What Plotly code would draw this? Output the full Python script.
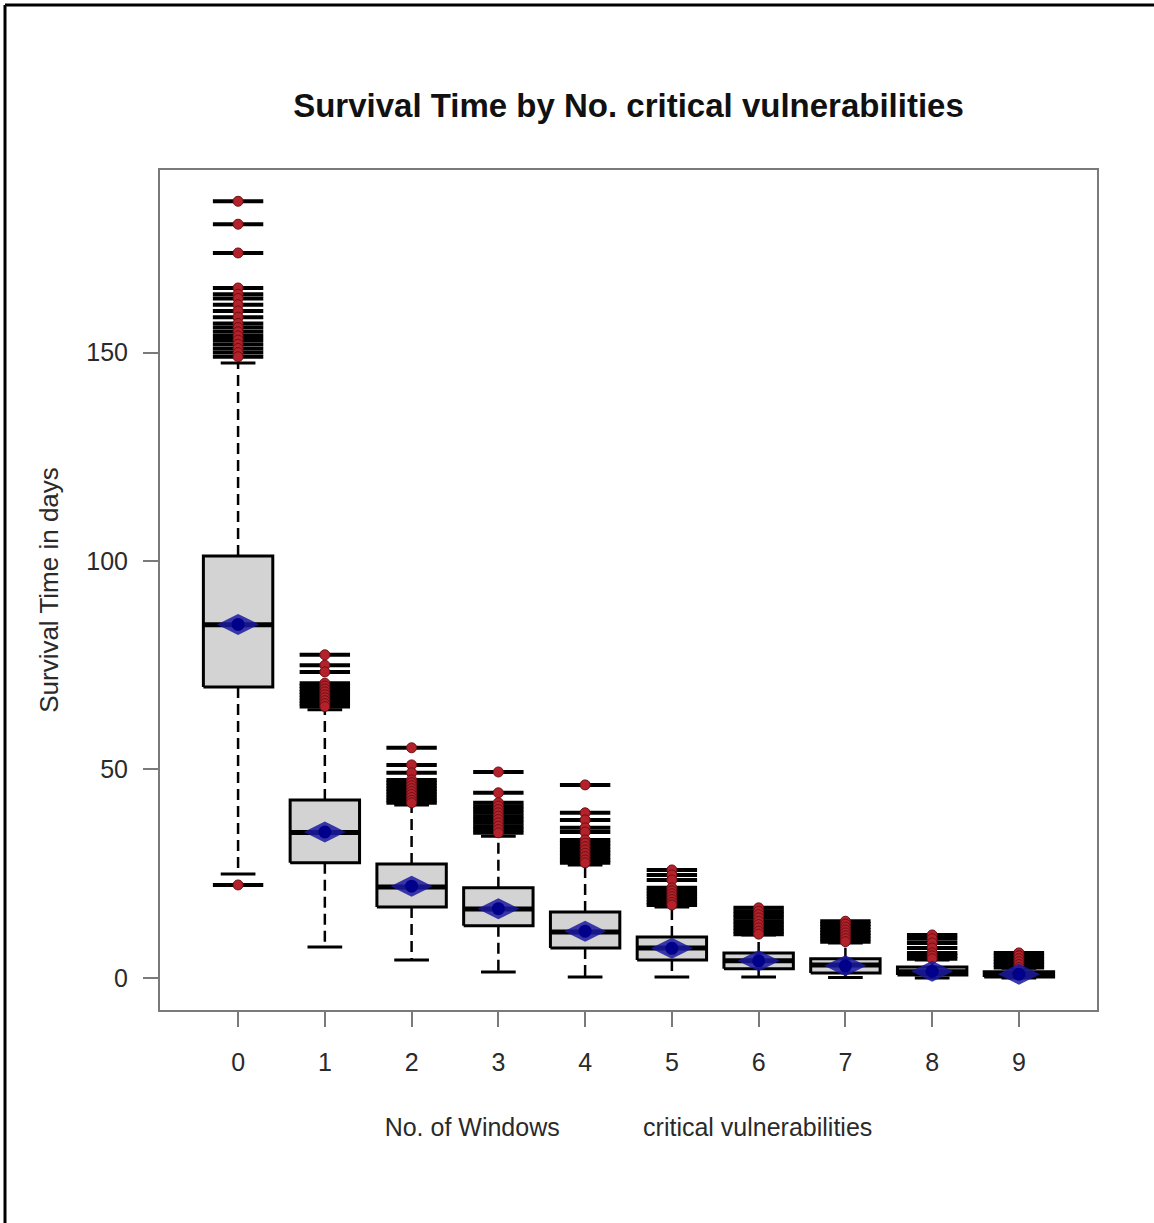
import plotly.graph_objects as go

# ---------------- data ----------------
categories = ["0", "1", "2", "3", "4", "5", "6", "7", "8", "9"]
q1_vals = [69.8, 27.6, 17.0, 12.5, 7.2, 4.3, 2.2, 1.2, 0.7, 0.2]
median_vals = [84.7, 34.9, 21.8, 16.5, 11.0, 7.2, 4.1, 3.1, 1.5, 0.8]
q3_vals = [101.2, 42.7, 27.3, 21.6, 15.8, 9.8, 6.0, 4.6, 2.6, 1.5]
lower_whisker = [24.9, 7.4, 4.3, 1.4, 0.2, 0.2, 0.2, 0.1, 0.0, 0.0]
upper_whisker = [147.5, 64.3, 41.5, 34.0, 27.1, 17.0, 10.3, 8.4, 4.3, 2.3]
mean_vals = [84.8, 35.0, 22.0, 16.6, 11.2, 7.1, 4.1, 2.9, 1.6, 0.9]
outliers = [
    [186.3, 180.8, 173.9, 165.5, 164.0, 163.0, 161.5, 160.0, 158.5, 157.0, 156.0,
     155.0, 154.0, 153.0, 152.0, 151.0, 150.0, 149.0, 22.3],
    [77.5, 75.0, 73.4, 70.7, 70.0, 69.3, 68.6, 67.9, 67.2, 66.5, 65.8, 65.1],
    [55.2, 51.1, 49.2, 47.5, 46.8, 46.1, 45.4, 44.7, 44.0, 43.3, 42.6, 42.0],
    [49.4, 44.4, 42.0, 41.2, 40.4, 39.6, 38.8, 38.0, 37.2, 36.4, 35.6, 34.8],
    [46.3, 39.6, 37.9, 36.0, 35.0, 33.1, 32.3, 31.5, 30.7, 29.9, 29.1, 28.3, 27.6],
    [25.9, 24.7, 23.5, 21.6, 20.9, 20.2, 19.5, 18.8, 18.1, 17.5],
    [16.8, 16.0, 15.2, 14.4, 13.6, 12.8, 12.0, 11.2, 10.5],
    [13.6, 12.9, 12.2, 11.5, 10.8, 10.1, 9.4, 8.7],
    [10.3, 9.4, 8.4, 7.2, 6.0, 5.3, 4.6],
    [6.0, 5.3, 4.6, 3.9, 3.2, 2.5],
]
y_ticks = [0, 50, 100, 150]

# ---------------- styling ----------------
W, H = 1154, 1223
L, R, T, B = 160, 1097, 170, 1010
HALF_BOX = 0.4
HALF_CAP = 0.2
FONT = "Liberation Sans, Arial, sans-serif"

xpos = list(range(len(categories)))

fig = go.Figure()

# whiskers (dashed)
wx, wy = [], []
for i, x in enumerate(xpos):
    wx += [x, x, None, x, x, None]
    wy += [q3_vals[i], upper_whisker[i], None, q1_vals[i], lower_whisker[i], None]
fig.add_trace(go.Scatter(x=wx, y=wy, mode="lines",
                         line=dict(color="black", width=2.5, dash="11px,6px"),
                         hoverinfo="skip", showlegend=False))

# caps
cx, cy = [], []
for i, x in enumerate(xpos):
    for v in (upper_whisker[i], lower_whisker[i]):
        cx += [x - HALF_CAP, x + HALF_CAP, None]
        cy += [v, v, None]
fig.add_trace(go.Scatter(x=cx, y=cy, mode="lines",
                         line=dict(color="black", width=3),
                         hoverinfo="skip", showlegend=False))

# outlier dashes (black)
ox, oy = [], []
for i, x in enumerate(xpos):
    for v in outliers[i]:
        ox.append(x)
        oy.append(v)
fig.add_trace(go.Scatter(x=ox, y=oy, mode="markers",
                         marker=dict(symbol="line-ew", size=36,
                                     line=dict(color="black", width=4)),
                         hoverinfo="skip", showlegend=False))

# boxes
bx, by = [], []
for i, x in enumerate(xpos):
    bx += [x - HALF_BOX, x + HALF_BOX, x + HALF_BOX, x - HALF_BOX, x - HALF_BOX, None]
    by += [q1_vals[i], q1_vals[i], q3_vals[i], q3_vals[i], q1_vals[i], None]
fig.add_trace(go.Scatter(x=bx, y=by, mode="lines", fill="toself",
                         fillcolor="#d3d3d3",
                         line=dict(color="black", width=3),
                         hoverinfo="skip", showlegend=False))

# medians
mx, my = [], []
for i, x in enumerate(xpos):
    mx += [x - HALF_BOX, x + HALF_BOX, None]
    my += [median_vals[i], median_vals[i], None]
fig.add_trace(go.Scatter(x=mx, y=my, mode="lines",
                         line=dict(color="black", width=5),
                         hoverinfo="skip", showlegend=False))

# outlier points (red)
fig.add_trace(go.Scatter(x=ox, y=oy, mode="markers",
                         marker=dict(symbol="circle", size=10, color="#b3222a",
                                     line=dict(color="#6e1016", width=1)),
                         hoverinfo="skip", showlegend=False))

# means (blue)
fig.add_trace(go.Scatter(x=xpos, y=mean_vals, mode="markers",
                         marker=dict(symbol="diamond-wide", size=30, color="#1a1aa0",
                                     opacity=0.85, line=dict(width=0)),
                         hoverinfo="skip", showlegend=False))
fig.add_trace(go.Scatter(x=xpos, y=mean_vals, mode="markers",
                         marker=dict(symbol="circle", size=13, color="#00008b",
                                     line=dict(width=0)),
                         hoverinfo="skip", showlegend=False))

# page border (left and top lines)
pw, ph = R - L, B - T
def px_to_paper_x(px):
    return (px - L) / pw
def py_to_paper_y(py):
    return (B - py) / ph
shapes = [
    dict(type="line", xref="paper", yref="paper",
         x0=px_to_paper_x(5), x1=px_to_paper_x(5),
         y0=py_to_paper_y(5), y1=py_to_paper_y(H),
         line=dict(color="black", width=3)),
    dict(type="line", xref="paper", yref="paper",
         x0=px_to_paper_x(5), x1=px_to_paper_x(W),
         y0=py_to_paper_y(5), y1=py_to_paper_y(5),
         line=dict(color="black", width=3)),
]

axis_common = dict(showgrid=False, zeroline=False, showline=True, mirror=True,
                   linecolor="#7a7a7a", linewidth=2, ticks="outside",
                   ticklen=15, tickwidth=2, tickcolor="#7a7a7a",
                   tickfont=dict(family=FONT, size=25, color="#2a2a2a"))

fig.update_layout(
    width=W, height=H,
    margin=dict(l=L, r=W - R, t=T, b=H - B, autoexpand=False),
    paper_bgcolor="white", plot_bgcolor="white",
    title=dict(text="<b>Survival Time by No. critical vulnerabilities</b>",
               x=(L + R) / 2 / W, xanchor="center",
               y=1 - 105 / H, yanchor="middle", yref="container",
               font=dict(family=FONT, size=33, color="#111111")),
    xaxis=dict(range=[-0.9, 9.9], tickmode="array", tickvals=xpos,
               ticktext=categories, ticklabelstandoff=14,
               title=dict(text="No. of Windows" + "\u00a0" * 12 + "critical vulnerabilities",
                          font=dict(family=FONT, size=25, color="#2a2a2a"),
                          standoff=43),
               **axis_common),
    yaxis=dict(range=[-7.7, 193.8], tickmode="array", tickvals=y_ticks,
               ticklabelstandoff=10,
               title=dict(text="Survival Time in days",
                          font=dict(family=FONT, size=26, color="#2a2a2a"),
                          standoff=20),
               **axis_common),
    shapes=shapes,
    showlegend=False,
)

fig.write_html("out.html", config={"displayModeBar": False},
               post_script="document.body.style.margin='0';document.body.style.padding='0';")
